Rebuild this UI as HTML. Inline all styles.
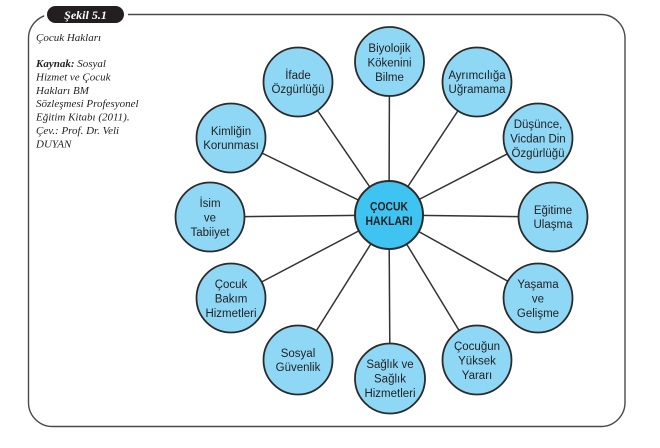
<!DOCTYPE html>
<html>
<head>
<meta charset="utf-8">
<style>
  html,body{margin:0;padding:0;background:#fff;}
  body{width:660px;height:448px;overflow:hidden;}
  svg{display:block;}
</style>
</head>
<body>
<svg width="660" height="448" viewBox="0 0 660 448" xmlns="http://www.w3.org/2000/svg">
  <!-- frame -->
  <rect x="28.5" y="14.5" width="596.5" height="412" rx="24" ry="24" fill="none" stroke="#4a4a4a" stroke-width="1.4"/>
  <!-- pill -->
  <rect x="44" y="4" width="84" height="21" rx="10.5" fill="#fff"/>
  <rect x="47" y="6" width="77" height="17" rx="8.5" fill="#231f20"/>
  <text x="85.5" y="19" text-anchor="middle" font-family="Liberation Serif, serif" font-style="italic" font-weight="bold" font-size="12" fill="#fff">Şekil 5.1</text>

  <!-- left caption -->
  <g font-family="Liberation Serif, serif" font-style="italic" font-size="11" fill="#231f20">
    <text x="36" y="41">Çocuk Hakları</text>
    <text x="36" y="67"><tspan font-weight="bold">Kaynak:</tspan> Sosyal</text>
    <text x="36" y="80.4">Hizmet ve Çocuk</text>
    <text x="36" y="93.8">Hakları BM</text>
    <text x="36" y="107.2">Sözleşmesi Profesyonel</text>
    <text x="36" y="120.6">Eğitim Kitabı (2011).</text>
    <text x="36" y="134">Çev.: Prof. Dr. Veli</text>
    <text x="36" y="147.4">DUYAN</text>
  </g>

  <!-- connectors -->
  <g stroke="#333" stroke-width="1.5">
    <line x1="389" y1="215" x2="389.5" y2="61.5"/>
    <line x1="389" y1="215" x2="298" y2="82"/>
    <line x1="389" y1="215" x2="477" y2="82"/>
    <line x1="389" y1="215" x2="231" y2="138"/>
    <line x1="389" y1="215" x2="538" y2="138"/>
    <line x1="389" y1="215" x2="210" y2="217"/>
    <line x1="389" y1="215" x2="553" y2="217"/>
    <line x1="389" y1="215" x2="231" y2="298"/>
    <line x1="389" y1="215" x2="538" y2="298"/>
    <line x1="389" y1="215" x2="298" y2="360"/>
    <line x1="389" y1="215" x2="477" y2="360"/>
    <line x1="389" y1="215" x2="390" y2="378"/>
  </g>

  <!-- outer circles -->
  <g fill="#8ed8f6" stroke="#2b2b2b" stroke-width="1.8">
    <circle cx="389.5" cy="61.5" r="34.5"/>
    <circle cx="298" cy="82" r="34.5"/>
    <circle cx="477" cy="82" r="34.5"/>
    <circle cx="231" cy="138" r="34.5"/>
    <circle cx="538" cy="138" r="34.5"/>
    <circle cx="210" cy="217" r="34.5"/>
    <circle cx="553" cy="217" r="34.5"/>
    <circle cx="231" cy="298" r="34.5"/>
    <circle cx="538" cy="298" r="34.5"/>
    <circle cx="298" cy="360" r="34.5"/>
    <circle cx="477" cy="360" r="34.5"/>
    <circle cx="390" cy="378.5" r="35"/>
  </g>
  <!-- center circle -->
  <circle cx="389" cy="215" r="34" fill="#3fc4f1" stroke="#2b2b2b" stroke-width="2"/>

  <!-- center text -->
  <g font-family="Liberation Sans, sans-serif" font-weight="bold" font-size="12" fill="#231f20" text-anchor="middle">
    <text x="389" y="210.5" textLength="38" lengthAdjust="spacingAndGlyphs">ÇOCUK</text>
    <text x="389" y="225" textLength="47" lengthAdjust="spacingAndGlyphs">HAKLARI</text>
  </g>

  <!-- outer labels -->
  <g font-family="Liberation Sans, sans-serif" font-size="11.5" fill="#231f20" text-anchor="middle">
    <text x="389.5" y="52">Biyolojik</text>
    <text x="389.5" y="66.5">Kökenini</text>
    <text x="389.5" y="81">Bilme</text>

    <text x="298" y="79">İfade</text>
    <text x="298" y="93">Özgürlüğü</text>

    <text x="477" y="79">Ayrımcılığa</text>
    <text x="477" y="93">Uğramama</text>

    <text x="231" y="135">Kimliğin</text>
    <text x="231" y="149">Korunması</text>

    <text x="538" y="128">Düşünce,</text>
    <text x="538" y="142.5">Vicdan Din</text>
    <text x="538" y="157">Özgürlüğü</text>

    <text x="210" y="207">İsim</text>
    <text x="210" y="221.5">ve</text>
    <text x="210" y="236">Tabiiyet</text>

    <text x="553" y="214">Eğitime</text>
    <text x="553" y="228">Ulaşma</text>

    <text x="231" y="288">Çocuk</text>
    <text x="231" y="302.5">Bakım</text>
    <text x="231" y="317">Hizmetleri</text>

    <text x="538" y="288">Yaşama</text>
    <text x="538" y="302.5">ve</text>
    <text x="538" y="317">Gelişme</text>

    <text x="298" y="357">Sosyal</text>
    <text x="298" y="371">Güvenlik</text>

    <text x="477" y="350">Çocuğun</text>
    <text x="477" y="364.5">Yüksek</text>
    <text x="477" y="379">Yararı</text>

    <text x="390" y="368">Sağlık ve</text>
    <text x="390" y="382.5">Sağlık</text>
    <text x="390" y="397">Hizmetleri</text>
  </g>
</svg>
</body>
</html>
